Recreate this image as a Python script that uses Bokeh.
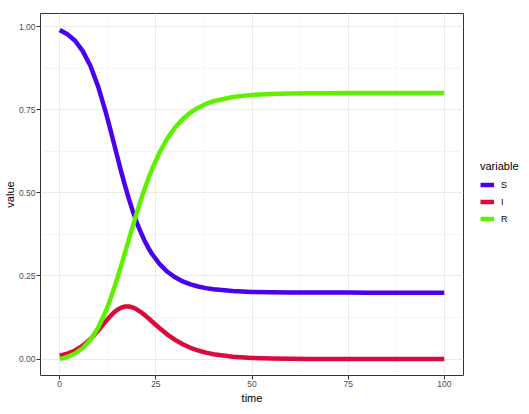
from bokeh.plotting import figure
from bokeh.models import Range1d, FixedTicker, Legend, LegendItem, ColumnDataSource
from bokeh.layouts import row
from bokeh.embed import file_html
from bokeh.resources import INLINE

# ---- data ----
time = [0, 2, 4, 6, 8, 10, 12, 13, 14, 15, 16, 17, 18, 19, 20, 21, 22, 23, 24,
        26, 28, 30, 32, 34, 36, 38, 40, 45, 50, 55, 60, 65, 70, 75, 80, 85, 90, 95, 100]
S = [0.9900, 0.9772, 0.9575, 0.9264, 0.8816, 0.8195, 0.7415, 0.6981, 0.6528, 0.6077,
     0.5632, 0.5208, 0.4812, 0.4448, 0.4121, 0.3832, 0.3576, 0.3354, 0.3160,
     0.2854, 0.2625, 0.2459, 0.2336, 0.2247, 0.2182, 0.2134, 0.2099, 0.2045, 0.2020,
     0.2009, 0.2003, 0.2001, 0.1999, 0.1999, 0.1998, 0.1998, 0.1998, 0.1998, 0.1998]
I = [0.0100, 0.0163, 0.0258, 0.0404, 0.0604, 0.0860, 0.1140, 0.1272, 0.1390, 0.1483,
     0.1548, 0.1580, 0.1581, 0.1552, 0.1497, 0.1422, 0.1332, 0.1234, 0.1130,
     0.0927, 0.0737, 0.0576, 0.0443, 0.0339, 0.0257, 0.0193, 0.0145, 0.0070, 0.0033,
     0.0016, 0.0007, 0.0004, 0.0002, 0.0001, 0.0000, 0.0000, 0.0000, 0.0000, 0.0000]
R = [0.0000, 0.0065, 0.0167, 0.0332, 0.0580, 0.0945, 0.1445, 0.1747, 0.2082, 0.2440,
     0.2820, 0.3212, 0.3607, 0.4000, 0.4382, 0.4746, 0.5092, 0.5412, 0.5710,
     0.6220, 0.6638, 0.6965, 0.7221, 0.7414, 0.7561, 0.7673, 0.7756, 0.7885, 0.7947,
     0.7976, 0.7990, 0.7996, 0.7999, 0.8001, 0.8002, 0.8002, 0.8002, 0.8002, 0.8002]

series_names = ["S", "I", "R"]
series_colors = ["#4B00EE", "#DC0A3C", "#5FF000"]

x_ticks = [0, 25, 50, 75, 100]
x_tick_labels = ["0", "25", "50", "75", "100"]
x_minor = [12.5, 37.5, 62.5, 87.5]
y_ticks = [0.0, 0.25, 0.5, 0.75, 1.0]
y_tick_labels = ["0.00", "0.25", "0.50", "0.75", "1.00"]
y_minor = [0.125, 0.375, 0.625, 0.875]

FONT = "Liberation Sans"

p = figure(width=465, height=414, output_backend="svg", toolbar_location=None,
           x_range=Range1d(-5, 105), y_range=Range1d(-0.0495, 1.0395),
           min_border_left=39, min_border_top=13, min_border_bottom=39,
           min_border_right=2)
p.background_fill_color = "white"
p.border_fill_color = "white"
p.outline_line_color = "#333333"
p.outline_line_width = 1

xt = FixedTicker(ticks=x_ticks, minor_ticks=x_minor)
yt = FixedTicker(ticks=y_ticks, minor_ticks=y_minor)
p.xaxis.ticker = xt
p.yaxis.ticker = yt
p.xgrid.ticker = xt
p.ygrid.ticker = yt
p.xaxis.major_label_overrides = dict(zip(x_ticks, x_tick_labels))
p.yaxis.major_label_overrides = dict(zip(y_ticks, y_tick_labels))

for g in (p.xgrid, p.ygrid):
    g.grid_line_color = "#EBEBEB"
    g.grid_line_width = 1
    g.minor_grid_line_color = "#EBEBEB"
    g.minor_grid_line_width = 0.5

for ax in (p.xaxis, p.yaxis):
    ax.axis_line_color = None
    ax.major_tick_line_color = "#333333"
    ax.major_tick_out = 4
    ax.major_tick_in = 0
    ax.minor_tick_line_color = None
    ax.major_label_text_color = "#4D4D4D"
    ax.major_label_text_font = FONT
    ax.major_label_text_font_size = "8.5px"
    ax.major_label_standoff = 1
    ax.axis_label_text_font = FONT
    ax.axis_label_text_font_size = "11px"
    ax.axis_label_text_font_style = "normal"
    ax.axis_label_text_color = "black"

p.xaxis.axis_label_standoff = 2
p.yaxis.axis_label_standoff = 0
p.xaxis.axis_label = "time"
p.yaxis.axis_label = "value"

src = ColumnDataSource(dict(time=time, S=S, I=I, R=R))
for name, col in zip(series_names, series_colors):
    p.line("time", name, source=src, line_color=col, line_width=4.5,
           line_join="round")

# ---- legend panel (separate narrow figure to the right; its own copies of
# the series lie outside its ranges, so only the legend shows) ----
lp = figure(width=64, height=414, output_backend="svg", toolbar_location=None,
            x_range=Range1d(-30, -20), y_range=Range1d(-30, -20),
            min_border=0, outline_line_color=None)
lp.axis.visible = False
lp.grid.visible = False
lp.background_fill_color = "white"
lp.border_fill_color = "white"
items = []
for name, col in zip(series_names, series_colors):
    r = lp.line("time", name, source=src, line_color=col, line_width=4.5)
    items.append(LegendItem(label=name, renderers=[r]))

legend = Legend(items=items, location=(15, 148), title="variable",
                orientation="vertical")
legend.title_text_font = FONT
legend.title_text_font_size = "11px"
legend.title_text_font_style = "normal"
legend.title_text_color = "black"
legend.title_standoff = 4
legend.label_text_font = FONT
legend.label_text_font_size = "9px"
legend.label_text_color = "black"
legend.glyph_width = 14
legend.glyph_height = 17
legend.label_height = 17
legend.label_standoff = 7
legend.spacing = 0
legend.padding = 0
legend.margin = 0
legend.border_line_color = None
legend.background_fill_alpha = 0
lp.add_layout(legend)

layout = row(p, lp)
open("out.html", "w").write(file_html(layout, INLINE))
